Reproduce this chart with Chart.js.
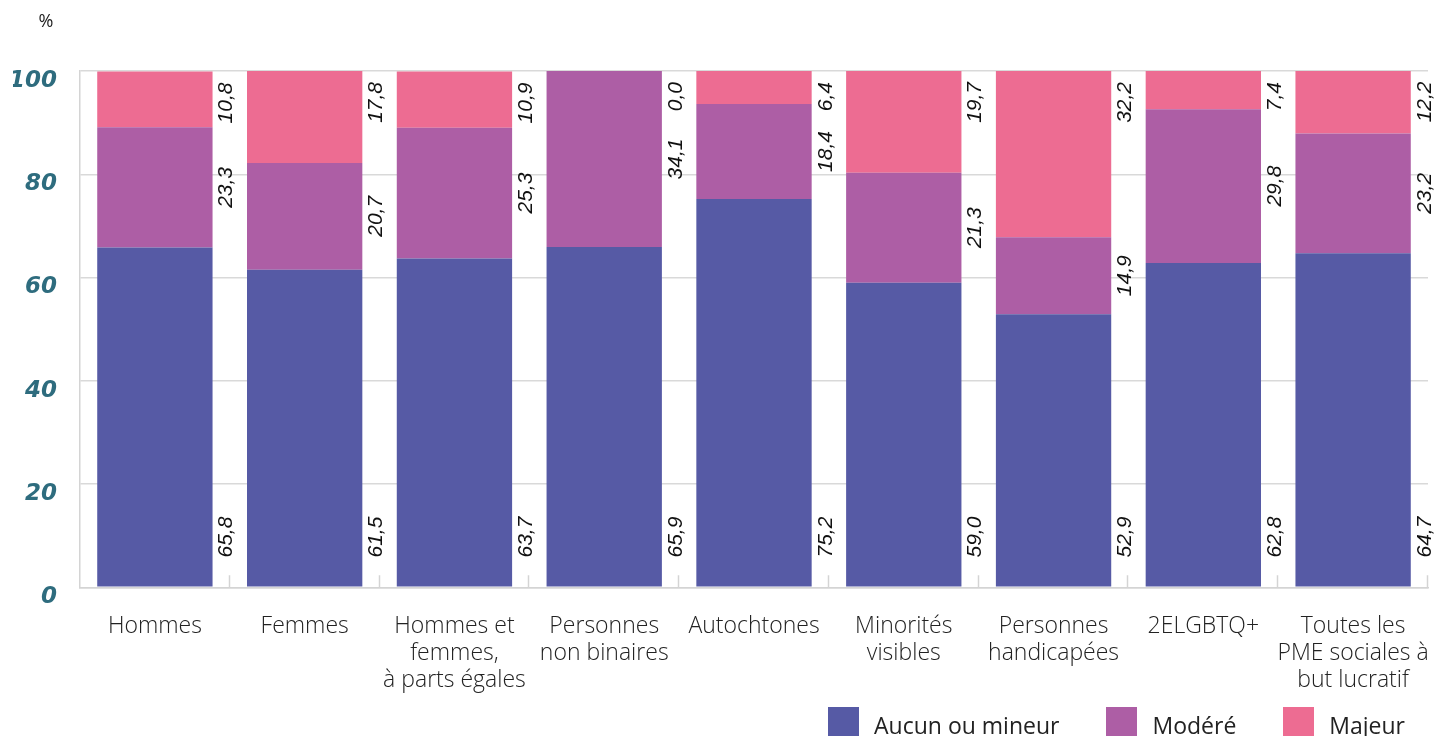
<!DOCTYPE html>
<html>
<head>
<meta charset="utf-8">
<script src="https://cdn.jsdelivr.net/npm/chart.js@4/dist/chart.umd.min.js"></script>
<style>
  body { margin: 0; background: #fff; overflow: hidden; width: 1441px; height: 736px; position: relative; }
  #wrap { position: absolute; left: 0; top: 0; width: 1441px; height: 712px; }
  .legend { position: absolute; top: 707px; right: 36px; display: flex; gap: 47px;
            font-family: 'Open Sans', sans-serif; font-size: 23px; color: #222; }
  .legend-item { display: flex; align-items: flex-start; }
  .legend-box { width: 31px; height: 31px; margin-right: 15px; }
  .legend-item span { line-height: 31px; margin-top: 3px; }
</style>
</head>
<body>
<div id="wrap"><canvas id="chart"></canvas></div>
<div class="legend" id="legend"></div>
<script>
'use strict';

var categories = [
  'Hommes',
  'Femmes',
  ['Hommes et', 'femmes,', 'à parts égales'],
  ['Personnes', 'non binaires'],
  'Autochtones',
  ['Minorités', 'visibles'],
  ['Personnes', 'handicapées'],
  '2ELGBTQ+',
  ['Toutes les', 'PME sociales à', 'but lucratif']
];
var seriesNames = ['Aucun ou mineur', 'Modéré', 'Majeur'];
var aucun  = [65.8, 61.5, 63.7, 65.9, 75.2, 59.0, 52.9, 62.8, 64.7];
var modere = [23.3, 20.7, 25.3, 34.1, 18.4, 21.3, 14.9, 29.8, 23.2];
var majeur = [10.8, 17.8, 10.9, 0.0, 6.4, 19.7, 32.2, 7.4, 12.2];
var yTicks = [0, 20, 40, 60, 80, 100];

const colors = ['#565aa5', '#ad5ea5', '#ed6c92'];

function fmt(v) {
  return v.toFixed(1).replace('.', ',');
}

//rotated value labels in the gap right of each bar
var valueLabels = {
  id: 'valueLabels',
  afterDatasetsDraw: function(chart) {
    var ctx = chart.ctx;
    ctx.save();
    ctx.font = 'italic 21px "Liberation Sans", Arial, sans-serif';
    ctx.fillStyle = '#111';
    ctx.textBaseline = 'middle';
    chart.data.datasets.forEach(function(ds, d) {
      chart.getDatasetMeta(d).data.forEach(function(bar, i) {
        var x = bar.x + bar.width / 2 + 14;
        var y, align;
        if (d === 0) {
          y = bar.base - 29; align = 'left';
        } else if (d === 2) {
          y = bar.y + 11; align = 'right';
        } else {
          y = (bar.y + bar.base) / 2; align = 'center';
        }
        ctx.save();
        ctx.translate(x, y);
        ctx.rotate(-Math.PI / 2);
        ctx.textAlign = align;
        ctx.fillText(fmt(ds.data[i]), 0, 0);
        ctx.restore();
      });
    });

    //small ticks between categories, inside the plot
    var xs = chart.scales.x;
    var step = xs.width / categories.length;
    var bottom = chart.chartArea.bottom;
    ctx.strokeStyle = '#d4d4d4';
    ctx.lineWidth = 1.5;
    for (var k = 1; k <= categories.length; k++) {
      var tx = Math.round(xs.left + step * k) - 0.5;
      ctx.beginPath();
      ctx.moveTo(tx, bottom - 12);
      ctx.lineTo(tx, bottom);
      ctx.stroke();
    }

    //unit label
    ctx.font = '18px "Open Sans", sans-serif';
    ctx.fillStyle = '#222';
    ctx.textAlign = 'center';
    ctx.fillText('%', 46, 22);
    ctx.restore();
  }
};

var datasets = [aucun, modere, majeur].map(function(values, i) {
  return {
    label: seriesNames[i],
    data: values,
    backgroundColor: colors[i],
    borderWidth: 0
  };
});

new Chart(document.getElementById('chart').getContext('2d'), {
  type: 'bar',
  data: { labels: categories, datasets: datasets },
  plugins: [valueLabels],
  options: {
    responsive: true,
    maintainAspectRatio: false,
    animation: false,
    layout: { padding: { top: 71, right: 13, left: 13, bottom: 0 } },
    datasets: { bar: { barPercentage: 0.77, categoryPercentage: 1 } },
    plugins: { legend: { display: false }, tooltip: { enabled: false } },
    scales: {
      x: {
        stacked: true,
        afterFit: function(scale) {
          scale.paddingRight = 0;
          scale.paddingLeft = 0;
        },
        grid: { display: false },
        border: { display: true, color: '#d4d4d4', width: 1.5 },
        ticks: {
          font: { family: 'Open Sans', size: 23, weight: 300, lineHeight: 1.17 },
          color: '#222',
          padding: 18,
          maxRotation: 0,
          autoSkip: false
        }
      },
      y: {
        stacked: true,
        min: 0,
        max: 100,
        afterBuildTicks: function(scale) {
          scale.ticks = yTicks.map(function(v) { return { value: v }; });
        },
        afterFit: function(scale) {
          scale.width = 67;
        },
        grid: { color: '#d9d9d9', lineWidth: 1.5, drawTicks: false },
        border: { color: '#d4d4d4', width: 1.5 },
        ticks: {
          font: { family: 'DejaVu Sans', size: 23, weight: 'bold', style: 'italic' },
          color: '#2e6c7e',
          padding: 23,
          labelOffset: 10
        }
      }
    }
  }
});

//html legend
var legend = document.getElementById('legend');
seriesNames.forEach(function(name, i) {
  var item = document.createElement('div');
  item.setAttribute('class', 'legend-item');
  var box = document.createElement('div');
  box.setAttribute('class', 'legend-box');
  box.style.background = colors[i];
  var text = document.createElement('span');
  text.appendChild(document.createTextNode(name));
  item.appendChild(box);
  item.appendChild(text);
  legend.appendChild(item);
});
</script>
</body>
</html>
